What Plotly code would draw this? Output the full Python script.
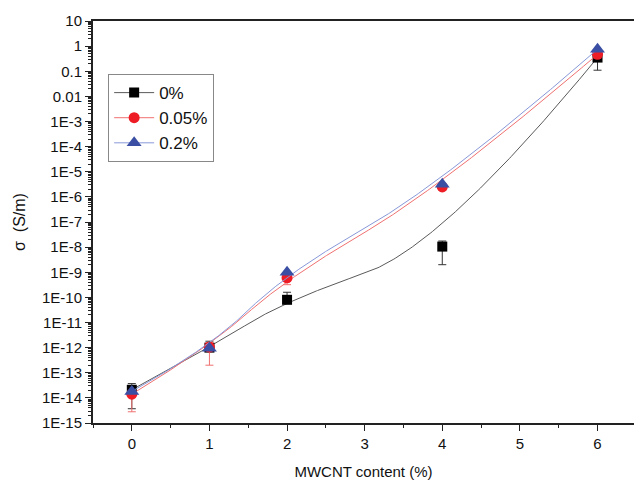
import numpy as np
import plotly.graph_objects as go

x = [0, 1, 2, 4, 6]
# conductivity (S/m)
s0 = [2.1e-14, 1.0e-12, 8.0e-11, 1.05e-8, 0.35]
s005 = [1.4e-14, 1.05e-12, 6.0e-10, 2.5e-6, 0.47]
s02 = [1.8e-14, 9.5e-13, 1.0e-9, 3.2e-6, 0.75]

# error bars (upper / lower limits, S/m)
s0_hi = [3.7e-14, 1.8e-12, 1.6e-10, 1.75e-8, 0.35]
s0_lo = [3.7e-15, 1.0e-12, 8.0e-11, 2.0e-9, 0.11]
s005_hi = [1.4e-14, 1.6e-12, 6.0e-10, 2.5e-6, 0.47]
s005_lo = [2.8e-15, 2.0e-13, 3.2e-10, 1.9e-6, 0.47]

ytick_vals = [10.0 ** k for k in range(1, -16, -1)]
ytick_text = ["10", "1", "0.1", "0.01"] + ["1E%d" % k for k in range(-3, -16, -1)]


def bspline(px, py, n=400, k=2):
    """Clamped B-spline using the data points as control points."""
    px = np.asarray(px, float)
    py = np.asarray(py, float)
    m = len(px)
    inner = list(range(1, m - k))
    knots = np.array([0] * (k + 1) + inner + [m - k] * (k + 1), float)
    t = np.linspace(0, m - k, n)
    t[-1] -= 1e-9

    def basis(i, d, tt):
        if d == 0:
            return np.where((knots[i] <= tt) & (tt < knots[i + 1]), 1.0, 0.0)
        a = 0.0
        b = 0.0
        den1 = knots[i + d] - knots[i]
        den2 = knots[i + d + 1] - knots[i + 1]
        if den1 > 0:
            a = (tt - knots[i]) / den1 * basis(i, d - 1, tt)
        if den2 > 0:
            b = (knots[i + d + 1] - tt) / den2 * basis(i + 1, d - 1, tt)
        return a + b

    B = np.array([basis(i, k, t) for i in range(m)])
    return B.T @ px, B.T @ py


series = [
    ("0%", s0, s0_hi, s0_lo, "#000000", "#5a5a5a", "#333333", "square", 10),
    ("0.05%", s005, s005_hi, s005_lo, "#ee1c25", "#f07070", "#f07070", "circle", 11),
    ("0.2%", s02, None, None, "#3a4fa3", "#8898d8", "#8898d8", "triangle-up", 13),
]

fig = go.Figure()
for name, ys, hi, lo, mcol, lcol, ecol, sym, msz in series:
    cx, cy = bspline(x, np.log10(ys))
    fig.add_trace(go.Scatter(x=cx, y=10 ** cy, mode="lines", line=dict(color=lcol, width=1),
                             showlegend=False, hoverinfo="skip"))
    err = None
    if hi is not None:
        err = dict(type="data", symmetric=False,
                   array=[h - v for h, v in zip(hi, ys)],
                   arrayminus=[v - l for v, l in zip(ys, lo)],
                   color=ecol, thickness=1, width=4)
    fig.add_trace(go.Scatter(x=x, y=ys, mode="markers", name=name,
                             marker=dict(symbol=sym, size=msz, color=mcol),
                             error_y=err, showlegend=False))
    fig.add_trace(go.Scatter(x=[None], y=[None], mode="lines+markers", name=name,
                             line=dict(color=lcol, width=1),
                             marker=dict(symbol=sym, size=msz, color=mcol)))

fig.update_layout(
    width=634, height=481,
    margin=dict(l=93, r=0, t=21, b=58),
    plot_bgcolor="white", paper_bgcolor="white",
    font=dict(family="Liberation Sans, Arial, sans-serif", color="#111111"),
    showlegend=True,
    legend=dict(x=0.028, y=0.868, xanchor="left", yanchor="top",
                bordercolor="#888888", borderwidth=1, bgcolor="white",
                font=dict(size=17), itemwidth=40, tracegroupgap=0),
    xaxis=dict(range=[-0.5, 6.47], tickvals=[0, 1, 2, 3, 4, 5, 6],
               ticks="outside", ticklen=6, tickwidth=1, tickcolor="#222",
               showline=True, linecolor="#222", linewidth=2, mirror=True,
               showgrid=False, zeroline=False, tickfont=dict(size=15),
               minor=dict(tickvals=[-0.5, 0.5, 1.5, 2.5, 3.5, 4.5, 5.5],
                          ticks="outside", ticklen=3, tickcolor="#222"),
               title=dict(text="MWCNT content (%)", font=dict(size=15), standoff=15)),
    yaxis=dict(type="log", range=[-15, 1], tickvals=ytick_vals, ticktext=ytick_text,
               ticks="outside", ticklen=6, tickwidth=1, tickcolor="#222",
               showline=True, linecolor="#222", linewidth=2,
               showgrid=False, zeroline=False, tickfont=dict(size=15),
               minor=dict(dtick="D1", ticks="outside", ticklen=3, tickcolor="#222"),
               title=dict(text="σ  (S/m)", font=dict(size=16), standoff=12)),
)

fig.write_html("out.html")
